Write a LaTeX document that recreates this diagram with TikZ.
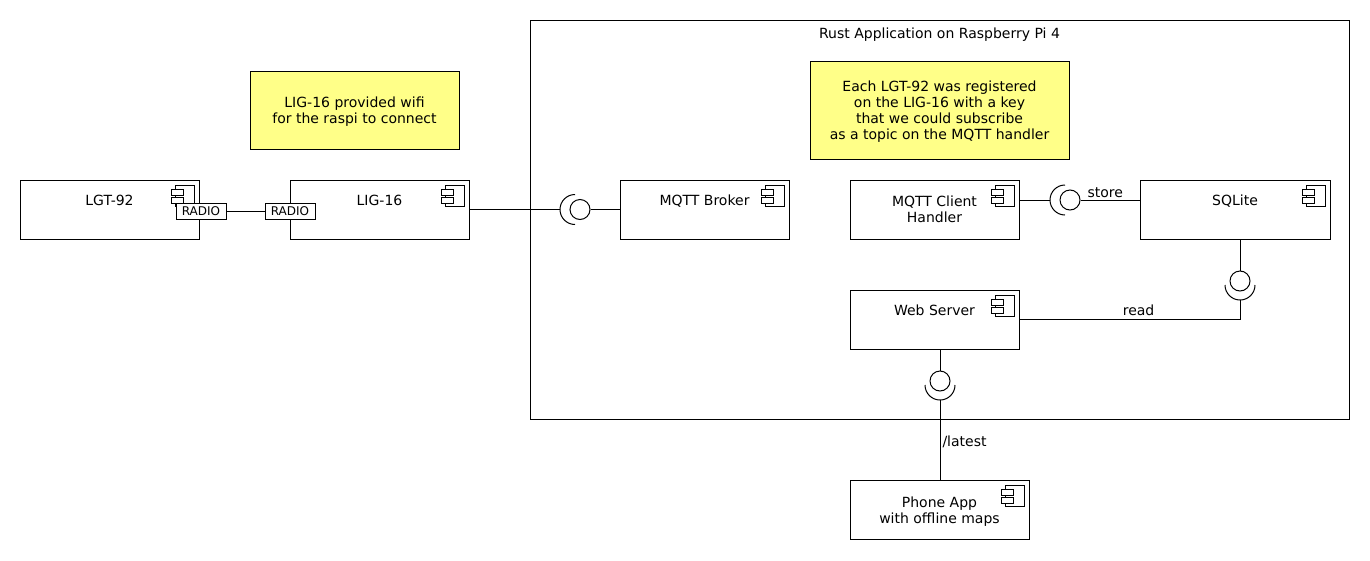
\documentclass[tikz,border=0pt]{standalone}
\usepackage{fontspec}
\setmainfont{DejaVu Sans}
\usetikzlibrary{positioning}
\definecolor{notefill}{HTML}{FFFF88}

\tikzset{
  comp/.style={draw, rectangle, fill=white, minimum height=59pt, align=center, text depth=0pt, inner sep=2pt,
    path picture={
      \coordinate (ic) at ([xshift=-5pt,yshift=-5pt]path picture bounding box.north east);
      \draw ([xshift=-19pt]ic) rectangle ([yshift=-21pt]ic);
      \draw[fill=white] ([xshift=-23pt,yshift=-4pt]ic) rectangle ([xshift=-11pt,yshift=-10pt]ic);
      \draw[fill=white] ([xshift=-23pt,yshift=-12pt]ic) rectangle ([xshift=-11pt,yshift=-18pt]ic);
    }},
  oneline/.style={text depth=19pt},
  port/.style={draw, fill=white, font=\fontsize{12}{14}\selectfont, minimum width=50pt, minimum height=16pt, inner sep=1pt},
  iface/.style={draw, circle, minimum size=20pt, inner sep=0pt},
  note/.style={draw, fill=notefill, align=center, text depth=0pt},
}

\begin{document}
\begin{tikzpicture}[x=1pt, y=-1pt, line width=1pt, font=\fontsize{14}{16}\selectfont]
\useasboundingbox (0,0) rectangle (1370,560);

\node[draw, minimum width=819pt, minimum height=399pt] (rpi) at (939.5,219.5) {};
\node[below=8pt of rpi.north, inner sep=0pt] (rpititle) {Rust Application on Raspberry Pi 4};

\node[note, minimum width=209pt, minimum height=78pt] (wifinote) at (354.5,110) {LIG-16 provided wifi\\for the raspi to connect};
\node[note, minimum width=259pt, minimum height=98pt] (keynote) at (939.5,110) {Each LGT-92 was registered\\on the LIG-16 with a key\\that we could subscribe\\as a topic on the MQTT handler};

\node[comp, oneline, minimum width=179pt] (lgt) at (109.5,209.5) {LGT-92};
\node[comp, oneline, minimum width=179pt] (lig) at (379.5,209.5) {LIG-16};
\node[comp, oneline, minimum width=169pt] (broker) at (704.5,209.5) {MQTT Broker};
\node[comp, minimum width=169pt] (client) at (934.5,209.5) {MQTT Client\\Handler};
\node[comp, oneline, minimum width=190pt] (sqlite) at (1235,209.5) {SQLite};
\node[comp, oneline, minimum width=169pt] (web) at (934.5,319.5) {Web Server};
\node[comp, minimum width=179pt] (phone) at (939.5,509.75) {Phone App\\with offline maps};

\node[port] (radioA) at (201,211) {RADIO};
\node[port] (radioB) at (290,211) {RADIO};

\node[iface] (brokerif) at (580,209.5) {};
\node[iface] (storeif) at (1070,200) {};
\node[iface] (readif) at (1240,281) {};
\node[iface] (latestif) at (940,381) {};

\draw ([xshift=-5pt,yshift=15pt]brokerif.center) arc[start angle=90, end angle=270, radius=15pt];
\draw ([xshift=-5pt,yshift=15pt]storeif.center) arc[start angle=90, end angle=270, radius=15pt];
\draw ([xshift=-15pt,yshift=-4pt]readif.center) arc[start angle=180, end angle=360, radius=15pt];
\draw ([xshift=-15pt,yshift=-4pt]latestif.center) arc[start angle=180, end angle=360, radius=15pt];
\coordinate (brokerend) at ([xshift=-20pt]brokerif.center);
\coordinate (storeend) at ([xshift=-20pt]storeif.center);
\coordinate (readend) at ([yshift=-19pt]readif.center);
\coordinate (latestend) at ([yshift=-19pt]latestif.center);

\draw (radioA) -- (radioB);
\draw (lig.east) -- (brokerend);
\draw (brokerif.east) -- (brokerif.east -| broker.west);
\draw (storeend -| client.east) -- (storeend);
\draw (storeif.east) -- (storeif.east -| sqlite.west) node[pos=.42, above, inner sep=2pt] (storelbl) {store};
\draw (sqlite.south -| readif) -- (readif.north);
\draw (readend) |- (web.east) node[pos=.73, above, inner sep=3pt] (readlbl) {read};
\draw (web.south -| latestif) -- (latestif.north);
\draw (latestend) -- (latestend |- phone.north) node[pos=.53, right, inner sep=2pt] (latestlbl) {/latest};

\end{tikzpicture}
\end{document}
